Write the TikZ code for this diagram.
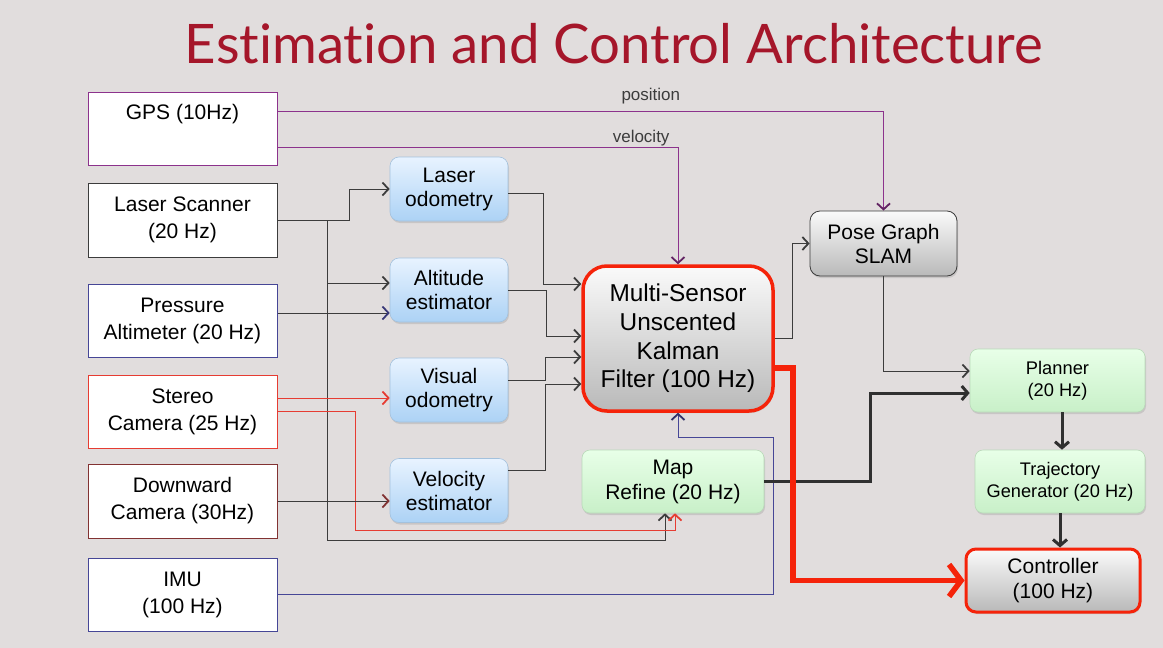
\documentclass[tikz,border=0pt]{standalone}
\usepackage{fontspec}
\setmainfont{Liberation Sans}
\newfontfamily\titlefont[Ligatures=NoCommon]{Lato}
\usepackage{tikz}
\usetikzlibrary{arrows.meta,shadows}
\definecolor{bgcol}{RGB}{225,221,221}
\definecolor{titlered}{RGB}{165,22,42}
\definecolor{wire}{RGB}{60,60,60}
\definecolor{gpspurple}{RGB}{140,50,140}
\definecolor{imublue}{RGB}{70,70,150}
\definecolor{camred}{RGB}{230,60,50}
\definecolor{camdark}{RGB}{130,50,50}
\definecolor{hotred}{RGB}{245,35,10}
\definecolor{bluetop}{RGB}{232,243,255}
\definecolor{bluebot}{RGB}{172,210,245}
\definecolor{greentop}{RGB}{232,255,232}
\definecolor{greenbot}{RGB}{200,240,200}
\definecolor{graytop}{RGB}{250,250,250}
\definecolor{graybot}{RGB}{185,185,185}

\begin{document}
\begin{tikzpicture}[x=1pt,y=-1pt,
    sensor/.style={draw=wire,fill=white,line width=1pt,minimum width=189pt,
      minimum height=73pt,align=center,font=\fontsize{21}{27}\selectfont},
    estim/.style={rounded corners=9pt,top color=bluetop,bottom color=bluebot,
      draw=bluebot!80!gray,line width=0.6pt,minimum width=118pt,minimum height=64pt,
      align=center,font=\fontsize{21}{24}\selectfont,
      drop shadow={opacity=0.25,shadow xshift=1pt,shadow yshift=-2pt}},
    greenbox/.style={rounded corners=8pt,top color=greentop,bottom color=greenbot,
      draw=greenbot!80!gray,line width=0.6pt,minimum height=63pt,align=center,
      drop shadow={opacity=0.25,shadow xshift=1pt,shadow yshift=-2pt}},
    graybox/.style={rounded corners=10pt,top color=graytop,bottom color=graybot,
      draw=wire,line width=0.8pt,align=center,
      drop shadow={opacity=0.25,shadow xshift=1pt,shadow yshift=-2pt}},
    wired/.style={draw=wire,line width=1pt,-{Straight Barb[length=6pt,width=13pt,line width=1.8pt]}},
    thick wired/.style={draw=wire!80!black,line width=3pt,-{Straight Barb[length=6pt,width=14pt]}},
    hot wired/.style={draw=hotred,line width=5.5pt,-{Straight Barb[length=12pt,width=32pt]}}]
  \useasboundingbox (0,0) rectangle (1163,648);
  \fill[bgcol] (0,0) rectangle (1163,648);
  \node[anchor=base,text=titlered,font=\titlefont\fontsize{54.5}{60}\selectfont] (title) at (614,63)
    {Estimation and Control Architecture};

  % sensors
  \node[sensor,draw=gpspurple,text depth=34pt] (gps) at (182.5,128.5) {GPS (10Hz)};
  \node[sensor,minimum height=74pt] (laser) at (182.5,220) {Laser Scanner\\(20 Hz)};
  \node[sensor,draw=imublue] (press) at (182.5,320.5) {Pressure\\Altimeter (20 Hz)};
  \node[sensor,draw=camred] (stereo) at (182.5,411.5) {Stereo\\Camera (25 Hz)};
  \node[sensor,draw=camdark,minimum height=74pt] (down) at (182.5,501) {Downward\\Camera (30Hz)};
  \node[sensor,draw=imublue] (imu) at (182.5,594.5) {IMU\\(100 Hz)};

  % estimators
  \node[estim] (lodo) at (449,189) {Laser\\odometry};
  \node[estim] (alti) at (449,290) {Altitude\\estimator};
  \node[estim] (vodo) at (449,390) {Visual\\odometry};
  \node[estim] (velo) at (449,490.5) {Velocity\\estimator};

  \node[graybox,draw=hotred,line width=3.5pt,rounded corners=24pt,minimum width=190pt,
    minimum height=145pt,font=\fontsize{24.4}{28.7}\selectfont] (ukf) at (678,338.5)
    {Multi-Sensor\\Unscented\\Kalman\\Filter (100 Hz)};
  \node[graybox,minimum width=147pt,minimum height=65pt,font=\fontsize{21}{24}\selectfont]
    (pose) at (883.5,243.5) {Pose Graph\\SLAM};
  \node[greenbox,minimum width=182pt,font=\fontsize{21}{25}\selectfont] (map) at (673,481.5)
    {Map\\Refine (20 Hz)};
  \node[greenbox,minimum width=175pt,font=\fontsize{18.3}{22}\selectfont] (planner) at (1057.5,380.5)
    {Planner\\(20 Hz)};
  \node[greenbox,minimum width=170pt,font=\fontsize{18.2}{22}\selectfont] (traj) at (1060,481.5)
    {Trajectory\\Generator (20 Hz)};
  \node[graybox,draw=hotred,line width=3pt,minimum width=174pt,minimum height=63pt,
    font=\fontsize{21}{25}\selectfont] (ctrl) at (1053,580.5) {Controller\\(100 Hz)};

  % gps
  \draw[wired,draw=gpspurple,-{Straight Barb[length=6pt,width=13pt,line width=1.8pt,color=gpspurple!70!black]}]
    ([yshift=17.5]gps.east) -| (pose.north)
    node[pos=0.308,above=3pt,font=\fontsize{17}{20}\selectfont,text=wire] {position};
  \draw[wired,draw=gpspurple,-{Straight Barb[length=6pt,width=13pt,line width=1.8pt,color=gpspurple!70!black]}]
    ([yshift=-18.5]gps.east) -| (ukf.north)
    node[pos=0.454,above=-3pt,font=\fontsize{17}{20}\selectfont,text=wire] {velocity};

  % laser scanner and its trunk
  \draw[wired] (laser.east) -- ++(72,0) |- (lodo.west);
  \draw[wired] ([xshift=50]laser.east) |- ([yshift=7]alti.west);
  \draw[wired] (laser.east) -- ++(50,0) -- ++(0,320) -| ([xshift=-8]map.south);

  % other sensors
  \draw[wired,-{Straight Barb[length=6pt,width=13pt,line width=1.8pt,color=imublue!80!black]}]
    ([yshift=7.5]press.east) -- ([yshift=7.5]press.east -| alti.west);
  \draw[wired,draw=camred,-{Straight Barb[length=6pt,width=13pt,line width=1.8pt,color=camred]}]
    ([yshift=13.5]stereo.east) -- ([yshift=13.5]stereo.east -| vodo.west);
  \draw[wired,draw=camred,-{Straight Barb[length=6pt,width=13pt,line width=1.8pt,color=camred]}]
    (stereo.east) -- ++(78,0) -- ++(0,118.5) -| ([xshift=2]map.south);
  \draw[wired,-{Straight Barb[length=6pt,width=13pt,line width=1.8pt,color=camdark]}]
    (down.east) -- (down.east -| velo.west);
  \draw[wired,draw=imublue,-{Straight Barb[length=6pt,width=13pt,line width=1.8pt,color=imublue!70!black]}]
    (imu.east) -- ++(496,0) |- ([yshift=-25]ukf.south) -- (ukf.south);

  % estimators into the filter
  \draw[wired] ([yshift=-4]lodo.east) -- ++(35,0) |- ([yshift=54.5]ukf.west);
  \draw[wired] (alti.east) -- ++(38,0) |- ([yshift=2.5]ukf.west);
  \draw[wired] ([yshift=10]vodo.east) -- ++(37,0) |- ([yshift=-18.5]ukf.west);
  \draw[wired] ([yshift=20.5]velo.east) -- ++(37,0) |- ([yshift=-45.5]ukf.west);

  % right side
  \draw[wired] ([yshift=0.5]ukf.east) -- ++(18,0) |- (pose.west);
  \draw[wired] (pose.south) |- ([yshift=9.5]planner.west);
  \draw[thick wired] (map.east) -- ++(106,0) |- ([yshift=-12.5]planner.west);
  \draw[hot wired] ([yshift=-29.5]ukf.east) -- ++(18,0) |- (ctrl.west);
  \draw[thick wired] ([xshift=4.5]planner.south) -- ([xshift=4.5]planner.south |- traj.north);
  \draw[thick wired] (traj.south) -- (traj.south |- ctrl.north);
\end{tikzpicture}
\end{document}
